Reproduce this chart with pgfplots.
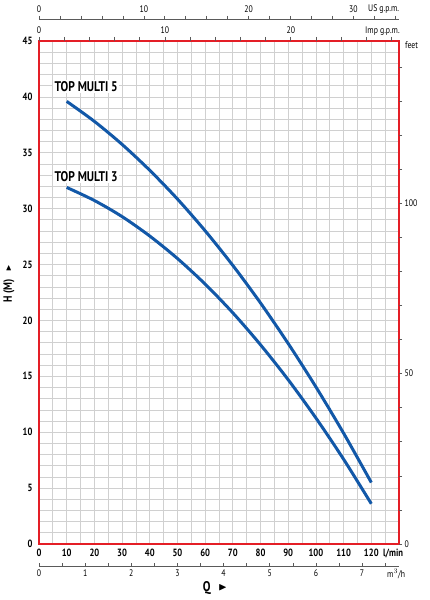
\documentclass[border=0pt]{standalone}
\usepackage{fontspec}
\setmainfont{PT Sans}[FakeStretch=0.82]
\usepackage{amssymb}
\usepackage{pgfplots}
\pgfplotsset{compat=1.18}
\definecolor{curveblue}{RGB}{18,88,168}
\definecolor{framered}{RGB}{228,30,38}
\definecolor{gridgray}{RGB}{208,208,208}
\definecolor{axgray}{RGB}{90,90,90}
\begin{document}
\begin{tikzpicture}
\useasboundingbox (-39pt,-56pt) rectangle (390pt,544pt);
% main axis (l/min, m)
\begin{axis}[
  at={(0,0)}, anchor=south west, scale only axis,
  width=360pt, height=503pt,
  xmin=0, xmax=130, ymin=0, ymax=45,
  xtick={0,10,...,120}, ytick={0,5,...,45},
  minor xtick={5,15,...,125}, minor ytick={0,1,...,45},
  grid=both,
  grid style={gridgray, line width=0.7pt},
  minor grid style={gridgray, line width=0.7pt},
  major tick length=0pt, minor tick length=0pt,
  axis line style={framered, line width=2pt},
  ticklabel style={font=\bfseries\fontsize{10.5}{12}\selectfont},
  /pgf/number format/assume math mode=true,
  yticklabel style={xshift=-3pt},
  xticklabel style={yshift=-1pt},
  clip=false,
]
\addplot[curveblue, line width=3pt, smooth] coordinates {
 (10,39.6) (20,37.81) (30,35.75) (40,33.43) (50,30.86) (60,28.02)
 (70,24.92) (80,21.56) (90,17.93) (100,14.05) (110,9.91) (120,5.5)};
\addplot[curveblue, line width=3pt, smooth] coordinates {
 (10,31.9) (20,30.73) (30,29.29) (40,27.55) (50,25.54) (60,23.25)
 (70,20.68) (80,17.82) (90,14.69) (100,11.27) (110,7.58) (120,3.6)};
\node[anchor=west, fill=white, inner sep=1.5pt, font=\bfseries\fontsize{14}{16}\selectfont] at (axis cs:5,40.9) {TOP MULTI 5};
\node[anchor=west, fill=white, inner sep=1.5pt, font=\bfseries\fontsize{14}{16}\selectfont] at (axis cs:5,32.9) {TOP MULTI 3};
\end{axis}
% right axis (feet)
\begin{axis}[
  at={(0,0)}, anchor=south west, scale only axis,
  width=360pt, height=503pt,
  xmin=0, xmax=130, ymin=0, ymax=147.638,
  hide x axis, axis y line=right, axis line style={draw=none},
  ytick={0,10,...,140}, yticklabels={0,,,,,50,,,,,100,,,,},
  tick align=outside, major tick length=3pt,
  ytick style={axgray, line width=0.6pt},
  yticklabel style={font=\fontsize{9.5}{11}\selectfont, xshift=-1pt},
  /pgf/number format/assume math mode=true,
]
\end{axis}
% top US gpm axis
\begin{axis}[
  at={(0,525pt)}, anchor=north west, scale only axis,
  width=360pt, height=1pt,
  xmin=0, xmax=34.342, ymin=0, ymax=1,
  hide y axis, axis x line=top, axis line style={axgray, line width=0.7pt, -},
  xtick={0,2,...,34}, xticklabels={0,,,,,10,,,,,20,,,,,30,,},
  tick align=outside, major tick length=3pt,
  xtick style={axgray, line width=0.6pt},
  xticklabel style={font=\fontsize{9.5}{11}\selectfont},
  /pgf/number format/assume math mode=true,
]
\end{axis}
% top Imp gpm axis
\begin{axis}[
  at={(0,503pt)}, anchor=north west, scale only axis,
  width=360pt, height=1pt,
  xmin=0, xmax=28.596, ymin=0, ymax=1,
  hide y axis, axis x line=top, axis line style={draw=none, -},
  xtick={0,2,...,28}, xticklabels={0,,,,,10,,,,,20,,,,},
  tick align=outside, major tick length=4pt,
  xtick style={axgray, line width=0.6pt},
  xticklabel style={font=\fontsize{9.5}{11}\selectfont},
  /pgf/number format/assume math mode=true,
]
\end{axis}
% bottom m3/h axis
\begin{axis}[
  at={(0,-22pt)}, anchor=south west, scale only axis,
  width=360pt, height=1pt,
  xmin=0, xmax=7.8, ymin=0, ymax=1,
  hide y axis, axis x line=bottom, axis line style={axgray, line width=0.7pt, -},
  xtick={0,0.5,...,7.5}, xticklabels={0,,1,,2,,3,,4,,5,,6,,7,},
  tick align=inside, major tick length=3pt,
  xtick style={axgray, line width=0.6pt},
  xticklabel style={font=\fontsize{9.5}{11}\selectfont},
  /pgf/number format/assume math mode=true,
]
\end{axis}
% unit labels
\node[anchor=west, inner sep=0pt, font=\fontsize{9.5}{11}\selectfont] at (329pt,535pt) {US g.p.m.};
\node[anchor=west, inner sep=0pt, font=\fontsize{9.5}{11}\selectfont] at (326pt,513pt) {Imp g.p.m.};
\node[anchor=west, inner sep=0pt, font=\fontsize{9.5}{11}\selectfont] at (366pt,499pt) {feet};
\node[anchor=west, inner sep=0pt, font=\bfseries\fontsize{10.5}{12}\selectfont] at (344pt,-9pt) {l/min};
\node[anchor=west, inner sep=0pt, font=\fontsize{9.5}{11}\selectfont] at (348pt,-30pt) {m$^3$/h};
\node[font=\bfseries\fontsize{14}{16}\selectfont] at (176pt,-44pt) {Q\hspace{8pt}\raisebox{1pt}{\scalebox{0.8}{$\blacktriangleright$}}};
\node[rotate=90, font=\bfseries\fontsize{12}{14}\selectfont] at (-30pt,260pt) {H (M)\hspace{8pt}\raisebox{1pt}{\scalebox{0.7}{$\blacktriangleright$}}};
\end{tikzpicture}
\end{document}
